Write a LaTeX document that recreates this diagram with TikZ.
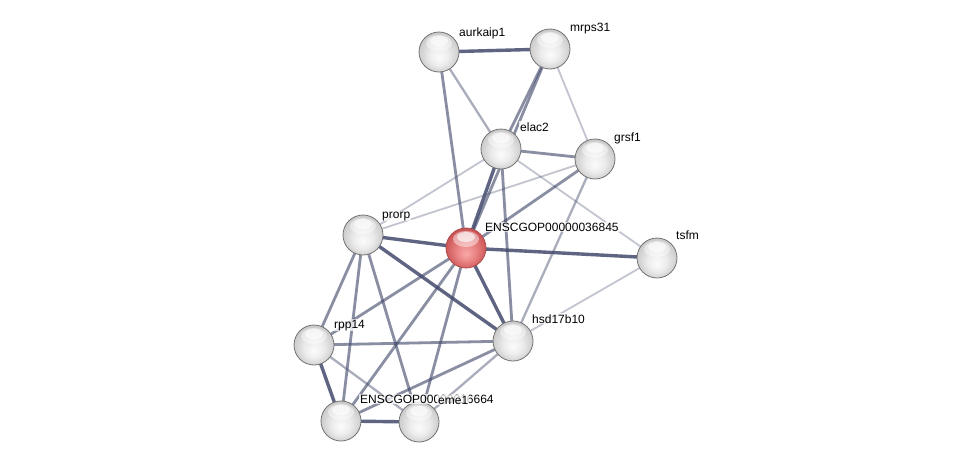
\documentclass[tikz,border=0pt]{standalone}
\usepackage{fontspec}
\setmainfont{Liberation Sans}
\pgfdeclareradialshading{graysphere}{\pgfpoint{0bp}{-8bp}}{color(0bp)=(white!97!gray); color(12bp)=(white!85!gray); color(24bp)=(white!62!gray); color(32bp)=(white!48!gray)}
\pgfdeclareradialshading{redsphere}{\pgfpoint{0bp}{-8bp}}{color(0bp)=(rgb,255:red,248;green,168;blue,168); color(12bp)=(rgb,255:red,234;green,132;blue,132); color(24bp)=(rgb,255:red,208;green,92;blue,92); color(32bp)=(rgb,255:red,172;green,62;blue,62)}
\definecolor{edgec}{RGB}{66,74,108}
\tikzset{
  sphere/.style={circle, minimum size=40pt, inner sep=0pt, draw=black!55, line width=0.8pt, shading=graysphere,
    path picture={
      \fill[white,opacity=.45] ([yshift=9pt]path picture bounding box.center) ellipse (13pt and 8pt);
      \fill[white,opacity=.6] ([yshift=11pt]path picture bounding box.center) ellipse (9pt and 5pt);}},
  redball/.style={sphere, draw=black!45!red!70, shading=redsphere},
  lbl/.style={anchor=base west, font=\fontsize{12}{14}\selectfont, fill=white, fill opacity=.75, text opacity=1, inner sep=1pt},
  eA/.style={draw=edgec, line width=3.4pt, opacity=.85},
  eB/.style={draw=edgec, line width=2.8pt, opacity=.62},
  eC/.style={draw=edgec, line width=2.3pt, opacity=.45},
  eD/.style={draw=edgec, line width=1.8pt, opacity=.32},
}
\begin{document}
\begin{tikzpicture}[x=1pt,y=-1pt]
\useasboundingbox[fill=white] (0,0) rectangle (975,466);
% node coordinates
\coordinate (aurkaip1) at (439,52);
\coordinate (mrps31) at (550,49);
\coordinate (elac2) at (501,149);
\coordinate (grsf1) at (595,159);
\coordinate (prorp) at (363,235);
\coordinate (red) at (466,248);
\coordinate (tsfm) at (657,258);
\coordinate (rpp14) at (314,345);
\coordinate (hsd) at (513,341);
\coordinate (ens2) at (341,421);
\coordinate (eme1) at (419,422);
% edges
\draw[eA] (aurkaip1) -- (mrps31);
\draw[eC] (aurkaip1) -- (elac2);
\draw[eB] (aurkaip1) -- (red);
\draw[eB] (mrps31) -- (elac2);
\draw[eB] (mrps31) -- (red);
\draw[eD] (mrps31) -- (grsf1);
\draw[eB] (elac2) -- (grsf1);
\draw[eD] (elac2) -- (prorp);
\draw[eD] (grsf1) -- (prorp);
\draw[eD] (elac2) -- (tsfm);
\draw[eB] (grsf1) -- (red);
\draw[eC] (grsf1) -- (hsd);
\draw[eB] (elac2) -- (hsd);
\draw[eA] (elac2) -- (red);
\draw[eA] (red) -- (tsfm);
\draw[eD] (tsfm) -- (hsd);
\draw[eA] (prorp) -- (red);
\draw[eA] (prorp) -- (hsd);
\draw[eB] (prorp) -- (rpp14);
\draw[eB] (prorp) -- (ens2);
\draw[eB] (prorp) -- (eme1);
\draw[eB] (red) -- (rpp14);
\draw[eA] (red) -- (hsd);
\draw[eB] (red) -- (ens2);
\draw[eB] (red) -- (eme1);
\draw[eB] (rpp14) -- (hsd);
\draw[eA] (rpp14) -- (ens2);
\draw[eC] (rpp14) -- (eme1);
\draw[eA] (ens2) -- (eme1);
\draw[eB] (ens2) -- (hsd);
\draw[eC] (eme1) -- (hsd);
% nodes
\node[sphere] (n-aurkaip1) at (aurkaip1) {};
\node[sphere] (n-mrps31) at (mrps31) {};
\node[sphere] (n-elac2) at (elac2) {};
\node[sphere] (n-grsf1) at (grsf1) {};
\node[sphere] (n-prorp) at (prorp) {};
\node[redball] (n-red) at (red) {};
\node[sphere] (n-tsfm) at (tsfm) {};
\node[sphere] (n-rpp14) at (rpp14) {};
\node[sphere] (n-hsd) at (hsd) {};
\node[sphere] (n-ens2) at (ens2) {};
\node[sphere] (n-eme1) at (eme1) {};
% labels
\node[lbl] (l-aurkaip1) at (458,36) {aurkaip1};
\node[lbl] (l-mrps31) at (569,31) {mrps31};
\node[lbl] (l-elac2) at (519,131) {elac2};
\node[lbl] (l-grsf1) at (613,141) {grsf1};
\node[lbl] (l-prorp) at (381,218) {prorp};
\node[lbl] (l-red) at (484,231) {ENSCGOP00000036845};
\node[lbl] (l-tsfm) at (675,239) {tsfm};
\node[lbl] (l-rpp14) at (333,328) {rpp14};
\node[lbl] (l-hsd) at (531,323) {hsd17b10};
\node[lbl] (l-ens2) at (359,403) {ENSCGOP00000016664};
\node[lbl] (l-eme1) at (437,404) {eme1};
\end{tikzpicture}
\end{document}
